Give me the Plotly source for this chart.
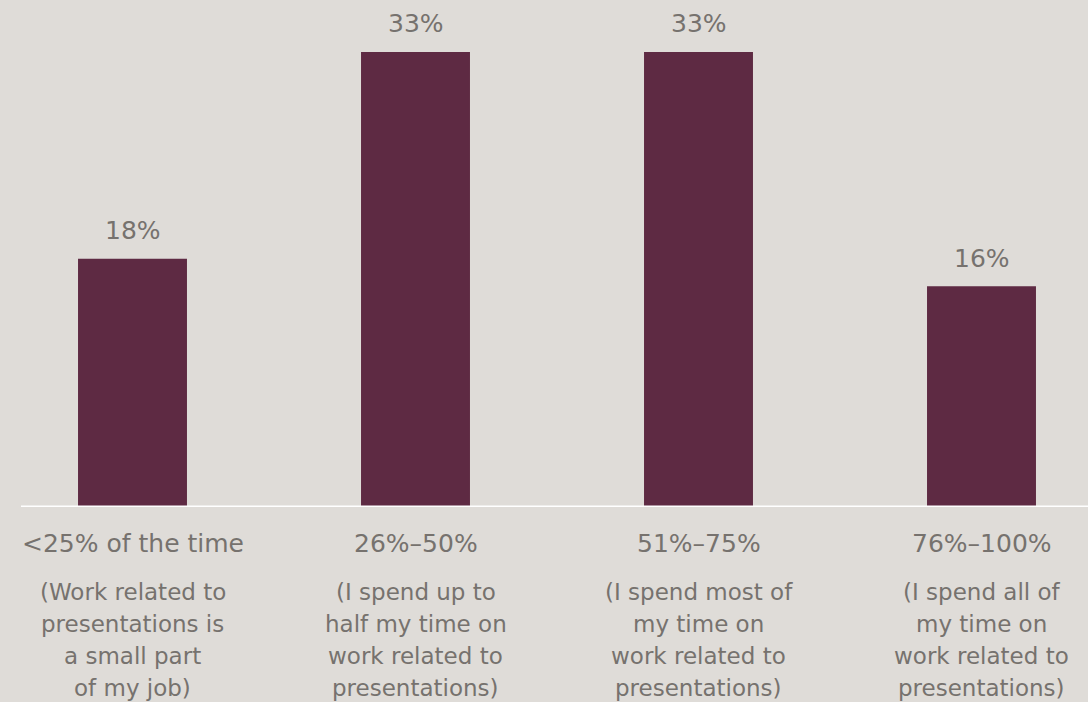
import plotly.graph_objects as go

# Share of working time spent on presentation-related work
ranges = ["<25% of the time", "26%–50%", "51%–75%", "76%–100%"]
descriptions = [
    "(Work related to<br>presentations is<br>a small part<br>of my job)",
    "(I spend up to<br>half my time on<br>work related to<br>presentations)",
    "(I spend most of<br>my time on<br>work related to<br>presentations)",
    "(I spend all of<br>my time on<br>work related to<br>presentations)",
]
shares = [18, 33, 33, 16]

BG = "#dfdcd8"
BAR = "#5e2a43"
TEXT = "#76726e"
FONT = "DejaVu Sans, sans-serif"

positions = list(range(len(ranges)))

fig = go.Figure(
    go.Bar(
        x=positions,
        y=shares,
        width=0.385,
        marker=dict(color=BAR, line=dict(width=0)),
        hoverinfo="skip",
    )
)

# value labels above each bar
for i, v in enumerate(shares):
    fig.add_annotation(
        x=i, y=v, xref="x", yref="y",
        text=f"{v}%", showarrow=False, yanchor="middle", yshift=28,
        font=dict(family=FONT, size=25, color=TEXT),
    )

# baseline under the bars
fig.add_shape(
    type="line", xref="paper", yref="y",
    x0=21 / 1088, x1=1, y0=0, y1=0,
    line=dict(color="white", width=3),
)

for i, (main, desc) in enumerate(zip(ranges, descriptions)):
    fig.add_annotation(
        x=i, y=0, xref="x", yref="paper",
        text=main, showarrow=False, yanchor="middle", yshift=-36,
        font=dict(family=FONT, size=25, color=TEXT),
    )
    for j, line in enumerate(desc.split("<br>")):
        fig.add_annotation(
            x=i, y=0, xref="x", yref="paper",
            text=line, showarrow=False, yanchor="middle", yshift=-(85 + 32 * j),
            font=dict(family=FONT, size=23, color=TEXT),
        )

fig.update_layout(
    width=1088, height=702,
    margin=dict(l=0, r=0, t=0, b=195),
    paper_bgcolor=BG, plot_bgcolor=BG,
    showlegend=False,
    xaxis=dict(range=[-132.5 / 283, (1088 - 132.5) / 283], visible=False, fixedrange=True),
    yaxis=dict(range=[0, 507 / 13.79], visible=False, fixedrange=True),
)

fig.write_html("out.html")
